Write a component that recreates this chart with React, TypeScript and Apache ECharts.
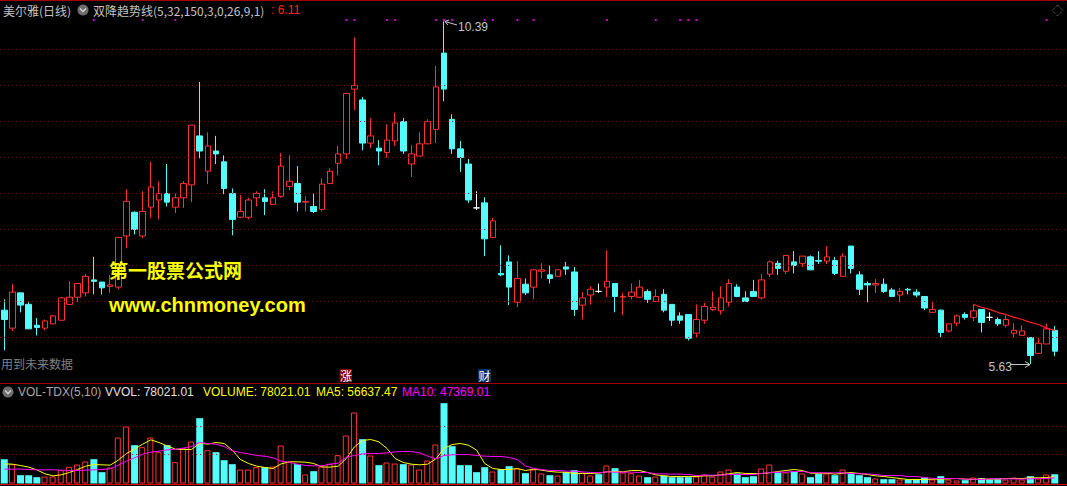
import React, { useEffect, useRef } from "react";
import * as echarts from "echarts";

// Prices, candle by candle
const opens = [6.38,6.13,6.62,6.46,6.17,6.13,6.19,6.24,6.46,6.56,6.62,6.80,6.77,6.71,6.70,7.41,7.74,7.41,7.81,7.91,8.00,7.81,7.94,8.12,8.80,8.31,8.59,8.44,8.00,7.67,7.67,7.94,7.94,7.85,7.96,8.10,8.14,7.88,7.82,7.78,8.14,8.42,8.55,9.45,9.30,8.70,8.63,8.57,8.73,9.00,8.41,8.52,8.69,8.89,9.95,9.03,8.62,8.41,7.80,7.87,7.39,6.89,7.05,6.49,6.74,6.70,6.92,6.87,6.85,6.98,6.91,6.45,6.59,6.64,6.70,6.75,6.56,6.57,6.56,6.64,6.50,6.60,6.46,6.30,6.32,6.06,6.24,6.39,6.37,6.49,6.70,6.55,6.64,6.55,6.88,7.03,6.92,7.05,7.03,7.12,7.07,7.06,7.07,6.85,7.27,6.87,6.75,6.73,6.74,6.66,6.59,6.67,6.63,6.57,6.35,6.38,6.09,6.20,6.32,6.28,6.39,6.28,6.25,6.17,6.06,6.03,6.00,5.78,5.91,6.10];
const closes = [6.25,6.63,6.45,6.12,6.14,6.23,6.30,6.55,6.56,6.75,6.85,6.78,6.69,6.73,7.39,7.89,7.50,7.75,8.09,8.00,7.88,7.94,8.14,8.95,8.59,8.66,8.55,8.07,7.64,7.75,7.91,8.00,7.89,7.94,8.38,8.17,7.88,7.89,7.75,8.13,8.31,8.55,9.39,9.50,8.70,8.80,8.59,8.74,8.98,8.59,8.55,8.69,9.00,9.48,9.45,8.62,8.50,7.91,7.80,7.37,7.62,6.87,6.70,6.82,6.62,6.94,6.94,6.82,6.94,6.95,6.39,6.55,6.67,6.64,6.78,6.57,6.57,6.63,6.70,6.53,6.57,6.38,6.24,6.24,5.99,6.25,6.43,6.42,6.55,6.75,6.57,6.50,6.57,6.80,7.05,6.96,7.14,7.00,7.13,6.94,7.06,7.12,6.89,7.13,6.96,6.67,6.73,6.75,6.64,6.57,6.64,6.66,6.59,6.41,6.39,6.07,6.19,6.30,6.28,6.37,6.21,6.28,6.19,6.25,6.10,6.09,5.75,5.92,6.12,5.81];
const lows = [5.82,6.09,6.35,6.12,6.03,6.10,6.19,6.24,6.46,6.49,6.57,6.60,6.60,6.62,6.67,7.24,7.43,7.38,7.66,7.64,7.82,7.73,7.80,7.88,8.49,8.13,8.41,7.99,7.42,7.66,7.64,7.82,7.70,7.85,7.94,8.05,7.75,7.75,7.73,7.75,8.13,8.25,8.48,9.16,8.60,8.63,8.39,8.50,8.66,8.55,8.23,8.52,8.69,8.70,9.28,8.55,8.30,7.87,7.77,7.13,7.38,6.85,6.45,6.42,6.59,6.53,6.82,6.75,6.85,6.87,6.30,6.25,6.46,6.62,6.56,6.35,6.31,6.53,6.55,6.48,6.50,6.35,6.16,6.19,5.96,6.00,6.19,6.37,6.32,6.43,6.56,6.50,6.57,6.53,6.84,6.87,6.88,6.89,6.98,6.94,7.02,7.02,6.87,6.85,6.89,6.59,6.49,6.62,6.62,6.56,6.49,6.60,6.56,6.38,6.35,6.00,6.07,6.16,6.25,6.23,6.07,6.23,6.16,6.14,6.00,6.03,5.63,5.78,5.91,5.74];
const highs = [6.53,6.74,6.62,6.49,6.27,6.25,6.31,6.56,6.78,6.75,6.88,7.12,6.77,6.87,7.39,8.06,7.75,8.03,8.44,8.17,8.41,8.00,8.17,8.95,9.55,8.85,8.80,8.53,8.07,7.98,7.94,8.03,8.06,8.03,8.56,8.53,8.38,7.96,8.00,8.21,8.35,8.66,9.39,10.17,9.34,9.05,8.74,8.96,9.12,9.05,8.67,8.85,9.03,9.77,10.39,9.10,8.73,8.48,8.03,7.95,7.66,7.28,7.14,7.06,6.82,6.94,7.03,7.00,6.95,7.05,6.98,6.63,6.71,6.75,7.21,6.75,6.62,6.75,6.80,6.67,6.67,6.67,6.46,6.35,6.32,6.46,6.48,6.64,6.71,6.81,6.74,6.64,6.80,6.88,7.07,7.07,7.14,7.20,7.13,7.14,7.20,7.27,7.12,7.17,7.27,6.92,6.78,6.81,6.82,6.69,6.69,6.69,6.67,6.57,6.49,6.39,6.19,6.32,6.35,6.46,6.39,6.35,6.28,6.31,6.20,6.17,6.00,5.99,6.19,6.16];

const volumes = [204400,162400,70000,70000,53200,58800,58800,112000,140000,159600,184800,204400,95200,134400,386400,478800,322000,305200,386400,263200,322000,179200,296800,352800,548800,280000,263200,196000,162400,117600,117600,137200,137200,142800,319200,179200,162400,75600,103600,142800,165200,238000,403200,596400,372400,235200,154000,176400,168000,162400,159600,117600,193200,327600,674800,313600,154000,154000,95200,137200,100800,120400,145600,126000,86800,117600,84000,70000,67200,95200,112000,92400,67200,78400,151200,128800,92400,86800,67200,53200,58800,67200,53200,53200,53200,58800,75600,58800,100800,117600,84000,53200,61600,126000,159600,92400,92400,100800,84000,53200,84000,84000,70000,117600,84000,70000,53200,42000,36400,36400,33600,33600,33600,50400,33600,61600,33600,25200,28000,50400,44800,33600,36400,33600,50400,33600,61600,42000,75600,78021];
const ma5 = [165200,162400,151200,137200,114800,81200,64400,72800,92400,117600,145600,159600,156800,154000,196000,252000,288400,330400,366800,344400,316400,288400,285600,285600,338800,330400,344400,336000,280000,201600,168000,145600,134400,126000,165200,182000,182000,179200,168000,140000,137200,145600,210000,308000,361200,369600,350000,294000,210000,176400,162400,156800,162400,207200,294000,327600,336000,322000,280000,168000,126000,117600,117600,126000,109200,120400,112000,100800,95200,95200,84000,84000,84000,86800,98000,100800,98000,109200,109200,92400,72800,64400,58800,58800,58800,58800,64400,64400,72800,81200,92400,84000,84000,84000,89600,100800,109200,117600,109200,86800,86800,86800,78400,86800,92400,84000,75600,64400,58800,50400,42000,33600,33600,33600,36400,36400,39200,42000,36400,33600,39200,36400,39200,42000,42000,42000,47600,47600,50400,56637];
const ma10 = [120400,120400,120400,117600,114800,114800,114800,112000,109200,109200,112000,114800,117600,123200,154000,187600,215600,246400,263200,271600,282800,288400,296800,310800,344400,336000,330400,310800,274400,260400,249200,235200,229600,215600,187600,179200,162400,151200,148400,148400,162400,170800,221200,235200,249200,252000,252000,257600,266000,268800,268800,257600,229600,207200,235200,240800,243600,243600,235200,229600,226800,226800,218400,201600,148400,126000,117600,109200,109200,103600,103600,98000,92400,89600,98000,95200,95200,95200,92400,92400,81200,81200,78400,78400,75600,67200,70000,70000,70000,75600,75600,75600,75600,84000,92400,95200,95200,100800,100800,92400,89600,89600,89600,89600,84000,81200,81200,75600,67200,67200,67200,58800,58800,50400,42000,42000,42000,42000,36400,36400,33600,39200,39200,39200,39200,36400,39200,42000,42000,47369];

const trendIndexes = [119,120,121,122,123,124,125,126,127,128,129];
const trendValues = [6.46,6.42,6.39,6.35,6.32,6.28,6.25,6.21,6.18,6.13,6.10];
const signalIndexes = [11,17,21,42,43,47,48,53,54,55,59,60,63,65,74,80,83,84,85,128];
const signalPrice = 10.41;
const priceGrid = [6,6.5,7,7.5,8,8.5,9,9.5,10];
const volumeGrid = [243600,478800];

const RED = "#ff3232";
const CYAN = "#54fcfc";
const LATIN = '"Liberation Sans", Arial, sans-serif';
const CJK = '"Noto Sans CJK SC", "Liberation Sans", sans-serif';

const txt = (text: string, x: number, y: number, fill: string, family = LATIN, size = 12, weight = "normal") => ({
  type: "text",
  silent: true,
  z: 20,
  style: { text, x, y, fill, font: `${weight} ${size}px ${family}`, textVerticalAlign: "middle" },
});
const seg = (points: number[][], stroke: string, lineWidth = 1, z = 20) => ({
  type: "polyline",
  silent: true,
  z,
  shape: { points },
  style: { stroke, lineWidth, fill: "none" },
});
const chevron = (cx: number, cy: number) => [
  { type: "circle", silent: true, z: 20, shape: { cx, cy, r: 5.5 }, style: { fill: "#6e6e6e" } },
  seg([[cx - 3, cy - 1.5], [cx, cy + 1.5], [cx + 3, cy - 1.5]], "#d8d8d8", 1.3),
];

export default function App() {
  const ref = useRef<HTMLDivElement>(null);
  useEffect(() => {
    document.body.style.background = "#000";
    const chart = echarts.init(ref.current!, undefined, { renderer: "svg" });
    const cats = [...opens.map((_, i) => String(i)), ""];
    const upVolumes = volumes.map((v, i) => (closes[i] > opens[i] ? v : null));
    const downVolumes = volumes.map((v, i) => (closes[i] > opens[i] ? null : v));
    chart.setOption({
      animation: false,
      backgroundColor: "#000",
      grid: [
        { left: 0.2, width: 1068.3, top: 0, height: 380.7 },
        { left: 0.2, width: 1068.3, top: 383.5, height: 100 },
      ],
      xAxis: [0, 1].map((gridIndex) => ({
        type: "category",
        gridIndex,
        data: cats,
        show: false,
        boundaryGap: true,
      })),
      yAxis: [
        { type: "value", gridIndex: 0, min: 5.4, max: 10.6875, show: false, splitLine: { show: false } },
        { type: "value", gridIndex: 1, min: 0, max: 840000, show: false, splitLine: { show: false } },
      ],
      series: [
        {
          type: "line",
          xAxisIndex: 0,
          yAxisIndex: 0,
          data: [],
          z: 1,
          silent: true,
          markLine: {
            silent: true,
            symbol: "none",
            label: { show: false },
            lineStyle: { color: "#8c0a0a", type: [1, 3], width: 1 },
            data: priceGrid.map((yAxis) => ({ yAxis })),
          },
        },
        {
          type: "candlestick",
          xAxisIndex: 0,
          yAxisIndex: 0,
          barWidth: 6,
          z: 3,
          itemStyle: {
            color: "#000",
            borderColor: RED,
            color0: CYAN,
            borderColor0: CYAN,
            borderColorDoji: "#ffffff",
            borderWidth: 1,
          },
          data: opens.map((o, i) => [o, closes[i], lows[i], highs[i]]),
        },
        {
          type: "line",
          xAxisIndex: 0,
          yAxisIndex: 0,
          z: 4,
          showSymbol: false,
          lineStyle: { color: "#ff2020", width: 1.2 },
          data: trendIndexes.map((x, i) => [x, trendValues[i]]),
        },
        {
          type: "scatter",
          xAxisIndex: 0,
          yAxisIndex: 0,
          z: 4,
          symbol: "rect",
          symbolSize: 2,
          itemStyle: { color: "#ff00ff" },
          data: signalIndexes.map((x) => [x, signalPrice]),
        },
        {
          type: "line",
          xAxisIndex: 1,
          yAxisIndex: 1,
          data: [],
          z: 1,
          silent: true,
          markLine: {
            silent: true,
            symbol: "none",
            label: { show: false },
            lineStyle: { color: "#a00000", type: [1, 3], width: 1 },
            data: volumeGrid.map((yAxis) => ({ yAxis })),
          },
        },
        {
          type: "bar",
          xAxisIndex: 1,
          yAxisIndex: 1,
          barWidth: 6,
          barGap: "-100%",
          z: 3,
          itemStyle: { color: "#000", borderColor: RED, borderWidth: 1 },
          data: upVolumes,
        },
        {
          type: "bar",
          xAxisIndex: 1,
          yAxisIndex: 1,
          barWidth: 7,
          barGap: "-100%",
          z: 3,
          itemStyle: { color: CYAN, borderWidth: 0 },
          data: downVolumes,
        },
        {
          type: "line",
          xAxisIndex: 1,
          yAxisIndex: 1,
          z: 4,
          showSymbol: false,
          lineStyle: { color: "#ffff00", width: 1 },
          data: ma5,
        },
        {
          type: "line",
          xAxisIndex: 1,
          yAxisIndex: 1,
          z: 5,
          showSymbol: false,
          lineStyle: { color: "#ff00ff", width: 1 },
          data: ma10,
        },
      ],
      graphic: [
        { type: "rect", silent: true, z: 15, shape: { x: 0, y: 0, width: 1067, height: 1 }, style: { fill: "#a00000" } },
        { type: "rect", silent: true, z: 15, shape: { x: 0, y: 383, width: 1067, height: 1 }, style: { fill: "#a00000" } },
        { type: "rect", silent: true, z: 15, shape: { x: 0, y: 484, width: 1067, height: 1 }, style: { fill: "#e00000" } },
        txt("美尔雅(日线)", 3, 10, "#c4c4c4", CJK),
        ...chevron(83, 10),
        txt("双降趋势线(5,32,150,3,0,26,9,1)", 93, 10, "#c4c4c4", CJK),
        txt(": 6.11", 271, 10, "#ff2020"),
        { type: "polygon", silent: true, z: 20, shape: { points: [[1057.5, 5], [1063, 10.5], [1057.5, 16], [1052, 10.5]] }, style: { stroke: "#808080", fill: "none", lineWidth: 1, lineDash: [1, 1] } },
        seg([[457, 25], [445, 21.5]], "#c8c8c8"),
        seg([[449, 20], [445, 21.5], [448, 25]], "#c8c8c8"),
        txt("10.39", 458, 27, "#c4c4c4"),
        seg([[1010, 364.5], [1030, 364.5]], "#c8c8c8"),
        seg([[1025, 361.5], [1030, 364.5], [1025, 367.5]], "#c8c8c8"),
        txt("5.63", 988.5, 366.5, "#c4c4c4"),
        txt("用到未来数据", 1, 363, "#808080", CJK),
        { type: "rect", silent: true, z: 19, shape: { x: 339.5, y: 369, width: 12.5, height: 13 }, style: { fill: "#7a0000" } },
        txt("涨", 340, 375.5, "#ffffff", CJK),
        { type: "rect", silent: true, z: 19, shape: { x: 478, y: 369, width: 13, height: 13 }, style: { fill: "#003366" } },
        txt("财", 478.5, 375.5, "#ffffff", CJK),
        txt("第一股票公式网", 109, 269.5, "#ffff00", CJK, 19, "bold"),
        txt("www.chnmoney.com", 109, 305, "#ffff00", LATIN, 20, "bold"),
        ...chevron(8, 392),
        txt("VOL-TDX(5,10)", 18, 392, "#a8a8a8"),
        txt("VVOL: 78021.01", 105, 392, "#e0e0e0"),
        txt("VOLUME: 78021.01", 203, 392, "#ffff00"),
        txt("MA5: 56637.47", 316, 392, "#ffff00"),
        txt("MA10: 47369.01", 402, 392, "#ff00ff"),
      ],
    });
    return () => chart.dispose();
  }, []);
  return <div ref={ref} style={{ position: "fixed", left: 0, top: 0, width: 1067, height: 486 }} />;
}
